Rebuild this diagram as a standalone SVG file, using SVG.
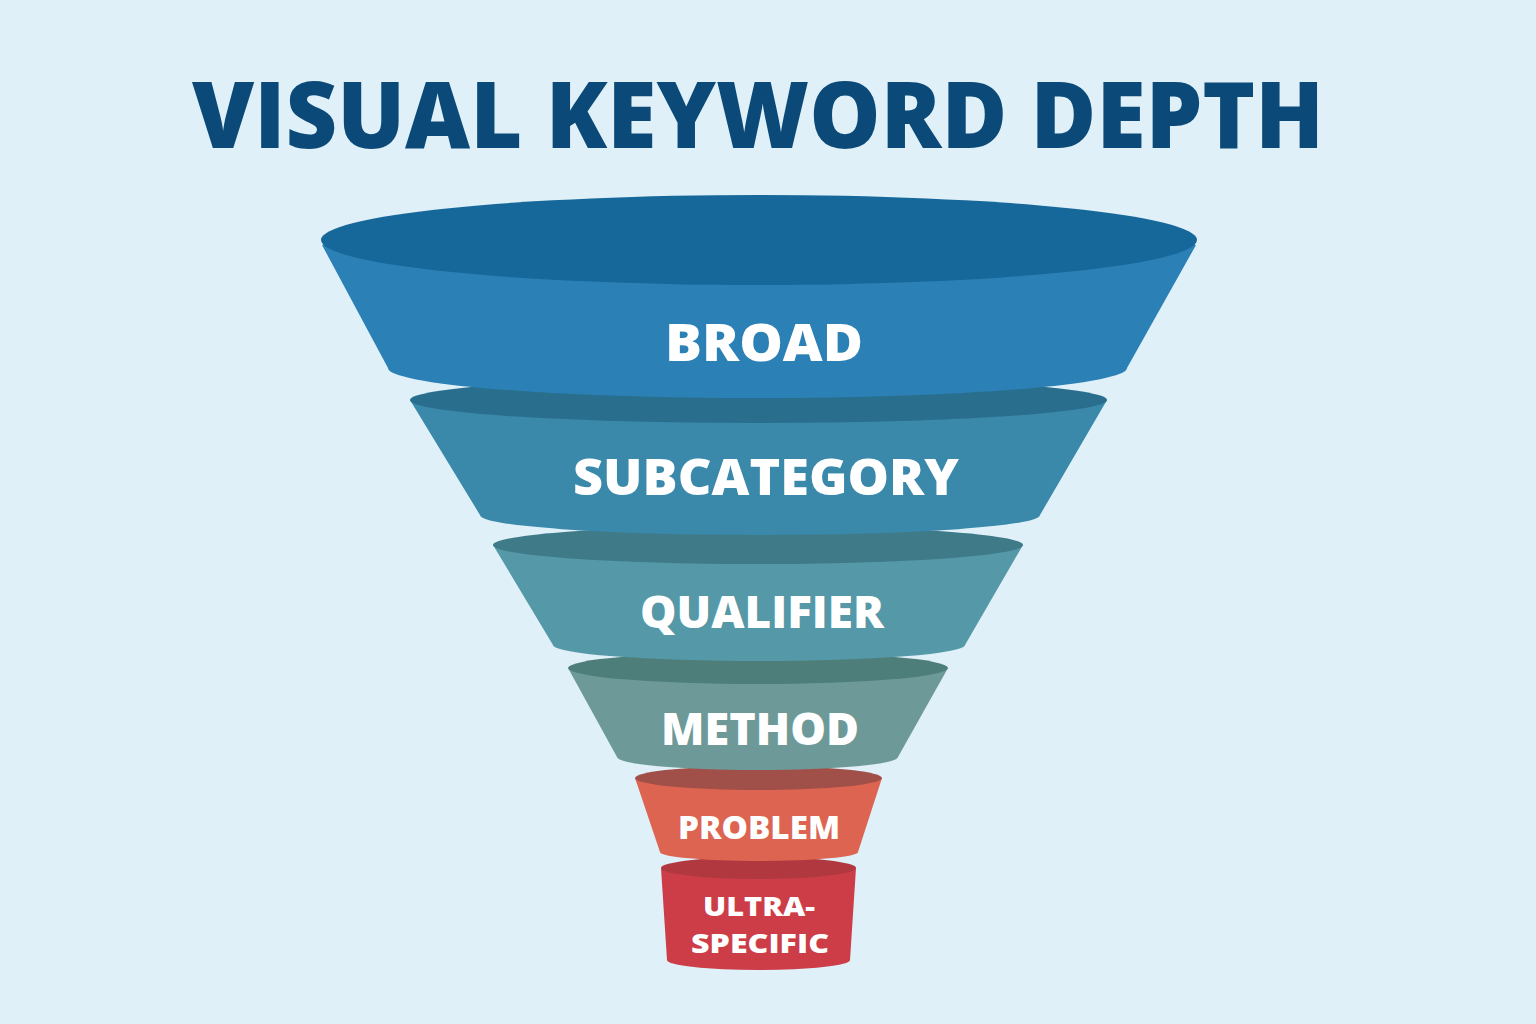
<svg xmlns="http://www.w3.org/2000/svg" width="1536" height="1024" viewBox="0 0 1536 1024">
<style>
text{font-family:"Open Sans","Liberation Sans",sans-serif;font-weight:800;fill:#fff;text-anchor:middle}
.t{fill:#0b4a78}
</style>
<rect width="1536" height="1024" fill="#dff0f8"/>
<text class="t" x="758" y="148" font-size="92" textLength="1132" lengthAdjust="spacingAndGlyphs">VISUAL KEYWORD DEPTH</text>
<g id="ultra">
<path d="M661,868 L667,960 A91.5,10 0 0 0 850,960 L856,868 Z" fill="#cc3d48"/>
<ellipse cx="758.5" cy="868" rx="97.5" ry="11" fill="#b23840"/>
<text x="759" y="916" font-size="27" textLength="112" lengthAdjust="spacingAndGlyphs">ULTRA-</text>
<text x="760" y="953" font-size="27" textLength="138" lengthAdjust="spacingAndGlyphs">SPECIFIC</text>
</g>
<g id="problem">
<path d="M635,778 L660,852 A99,9 0 0 0 858,852 L882,778 Z" fill="#dc6450"/>
<ellipse cx="758.5" cy="778" rx="123.5" ry="12" fill="#a05048"/>
<text x="759" y="839" font-size="32" textLength="162" lengthAdjust="spacingAndGlyphs">PROBLEM</text>
</g>
<g id="method">
<path d="M568,668 L617,757 A140.5,13 0 0 0 898,757 L948,668 Z" fill="#6d9a98"/>
<ellipse cx="758" cy="668" rx="190" ry="16" fill="#4e7e7a"/>
<text x="760" y="745" font-size="44" textLength="198" lengthAdjust="spacingAndGlyphs">METHOD</text>
</g>
<g id="qualifier">
<path d="M493,545 L553,645 A206,16 0 0 0 965,645 L1023,545 Z" fill="#5598a8"/>
<ellipse cx="758" cy="545" rx="265" ry="19" fill="#3e7a88"/>
<text x="762" y="628" font-size="44" textLength="244" lengthAdjust="spacingAndGlyphs">QUALIFIER</text>
</g>
<g id="subcategory">
<path d="M410,400 L480,515 A280,20 0 0 0 1040,515 L1107,400 Z" fill="#3a88aa"/>
<ellipse cx="758.5" cy="400" rx="348.5" ry="23" fill="#2a6e8e"/>
<text x="766" y="495" font-size="50" textLength="386" lengthAdjust="spacingAndGlyphs">SUBCATEGORY</text>
</g>
<g id="broad">
<path d="M322,245 L388,368 A369.5,30 0 0 0 1127,368 L1196,245 Z" fill="#2b80b5"/>
<ellipse cx="759" cy="240" rx="438" ry="45" fill="#17689a"/>
<text x="764" y="361" font-size="52" textLength="198" lengthAdjust="spacingAndGlyphs">BROAD</text>
</g>
<g id="connectors"/>
</svg>
